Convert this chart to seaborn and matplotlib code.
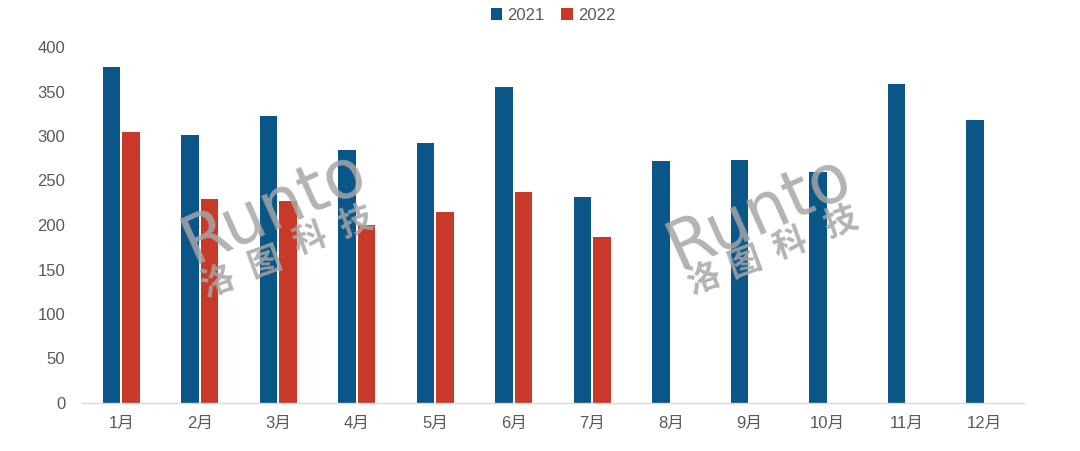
import numpy as np
import pandas as pd
import matplotlib
matplotlib.use("Agg")
import matplotlib.pyplot as plt
import seaborn as sns

months = ["1月", "2月", "3月", "4月", "5月", "6月", "7月", "8月", "9月", "10月", "11月", "12月"]
sales_2021 = [378, 301, 322, 284, 292, 355, 232, 272, 273, 260, 358, 318]
sales_2022 = [304, 229, 227, 200, 215, 237, 186, np.nan, np.nan, np.nan, np.nan, np.nan]
series = ["2021", "2022"]
yticks = [0, 50, 100, 150, 200, 250, 300, 350, 400]

df = pd.DataFrame({
    "month": months * 2,
    "year": [series[0]] * 12 + [series[1]] * 12,
    "value": sales_2021 + sales_2022,
})

sns.set_theme(style="white")
plt.rcParams['font.family'] = ['Liberation Sans', 'Noto Sans CJK SC', 'DejaVu Sans']

fig = plt.figure(figsize=(10.8, 4.51), dpi=100)
ax = fig.add_axes([82 / 1080, 1 - 403 / 451, (1024 - 82) / 1080, (403 - 47) / 451])

palette = {"2021": "#0A5689", "2022": "#C9392A"}
sns.barplot(data=df, x="month", y="value", hue="year", order=months, hue_order=series,
            palette=palette, width=0.5, gap=0.1, errorbar=None, ax=ax, saturation=1,
            edgecolor="none")

ax.set_ylim(0, 400)
ax.set_xlim(-0.5, 11.5)
ax.set_yticks(yticks)
ax.set_yticklabels([str(t) for t in yticks])
ax.set_xlabel("")
ax.set_ylabel("")
for s in ["top", "right", "left"]:
    ax.spines[s].set_visible(False)
ax.spines["bottom"].set_color("#d9d9d9")
ax.spines["bottom"].set_linewidth(1)
ax.tick_params(axis="y", length=0, labelsize=12, labelcolor="#595959", pad=12)
ax.tick_params(axis="x", which="major", length=0, labelsize=12, labelcolor="#595959", pad=9)
ax.set_xticks(np.arange(-0.5, 12, 1), minor=True)
ax.tick_params(axis="x", which="minor", length=5, color="#d9d9d9", width=1, direction="out")
ax.grid(False)

leg = ax.legend(loc="center", bbox_to_anchor=(0.5, 1 + 32 / 356), ncol=2, frameon=False,
                handlelength=0.7, handleheight=0.7, handletextpad=0.3, columnspacing=1.0,
                fontsize=12)
for t in leg.get_texts():
    t.set_color("#595959")

# watermarks
wm_color = "#a6a6a6"
for cx, cy, chars in [
    (274, 207, [(217, 283), (265, 263), (310, 240), (355, 222)]),
    (759, 212, [(703, 280), (745, 263), (790, 245), (840, 222)]),
]:
    fig.text(cx / 1080, 1 - cy / 451, "Runto", fontsize=48, color=wm_color, alpha=0.85,
             rotation=24, ha="center", va="center", family=["DejaVu Sans"])
    for ch, (px, py) in zip("洛图科技", chars):
        fig.text(px / 1080, 1 - py / 451, ch, fontsize=24, color=wm_color, alpha=0.85,
                 rotation=20, ha="center", va="center", fontweight="bold",
                 family=["Noto Sans CJK SC"])

fig.savefig("out.png", dpi=100)
